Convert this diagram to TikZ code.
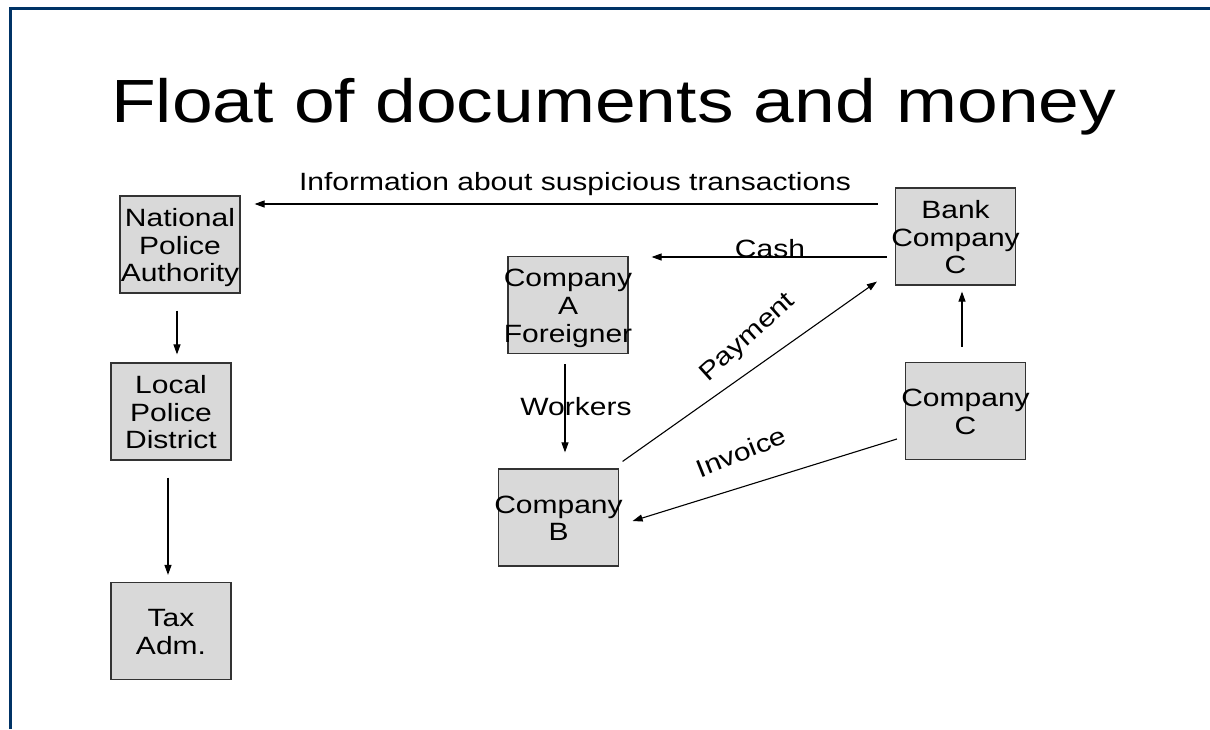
\documentclass[tikz,border=0pt]{standalone}
\usepackage{fontspec}
\setmainfont{Liberation Sans}[FakeStretch=1.2]
\usetikzlibrary{arrows.meta}
\definecolor{frame}{RGB}{0,51,102}
\definecolor{boxfill}{RGB}{217,217,217}
\definecolor{boxline}{RGB}{51,51,51}
% box caption: lines centred on the box, allowed to run past its sides
\newcommand\boxlines[1]{\raisebox{-4pt}[\height][\depth]{%
  \makebox[100pt]{\begin{tabular}{@{}c@{}}#1\end{tabular}}}}
\begin{document}
\begin{tikzpicture}[x=1pt,y=-1pt,
  box/.style={draw=boxline, fill=boxfill, line width=1.2pt, rectangle,
    minimum width=120pt, minimum height=97pt, inner sep=0pt,
    font=\fontsize{25}{27.8}\selectfont},
  arr/.style={draw=black, line width=1.1pt, -{Triangle[length=10pt,width=7pt]}},
  lbl/.style={inner sep=0pt, font=\fontsize{25}{28}\selectfont}]
\useasboundingbox (0,0) rectangle (1210,729);

% slide frame
\draw[frame, line width=2.8pt] (10.5,729) -- (10.5,8.7) -- (1210,8.7);

% title
\node[anchor=base west, inner sep=0pt, font=\fontsize{61}{72}\selectfont] (title)
  at (111,122) {Float of documents and money};

% boxes
\node[box] (npa)  at (180,244.5)   {\boxlines{National\\Police\\Authority}};
\node[box] (lpd)  at (171,411.5)   {\boxlines{Local\\Police\\District}};
\node[box] (tax)  at (171,631)     {\boxlines{Tax\\Adm.}};
\node[box] (ca)   at (568,305)     {\boxlines{Company\\A\\Foreigner}};
\node[box] (bank) at (955.5,236.5) {\boxlines{Bank\\Company\\C}};
\node[box] (cb)   at (558.5,517.5) {\boxlines{Company\\B}};
\node[box] (cc)   at (965.5,411)   {\boxlines{Company\\C}};

% connectors
\draw[arr] ([xshift=-17pt,yshift=32.5pt]bank.west) -- ([xshift=14pt,yshift=40.5pt]npa.east);
\draw[arr] ([xshift=-8pt,yshift=-20.5pt]bank.west) -- ([xshift=23pt,yshift=48pt]ca.east);
\draw[arr] ([xshift=3.5pt,yshift=7pt]cb.north east) -- ([xshift=-18pt,yshift=4pt]bank.south west);
\draw[arr] ([xshift=-3pt,yshift=-10pt]ca.south) -- ([xshift=6.5pt,yshift=16pt]cb.north);
\draw[arr] ([xshift=-8pt,yshift=-28pt]cc.west) -- ([xshift=13.5pt,yshift=-3.5pt]cb.east);
\draw[arr] ([xshift=-3.5pt,yshift=15pt]cc.north) -- ([xshift=6.5pt,yshift=-6pt]bank.south);
\draw[arr] ([xshift=-3pt,yshift=-17pt]npa.south) -- ([xshift=6pt,yshift=8pt]lpd.north);
\draw[arr] ([xshift=-3pt,yshift=-17pt]lpd.south) -- ([xshift=-3pt,yshift=7pt]tax.north);

% connector labels
\node[lbl, anchor=base] (linfo) at (575,190) {Information about suspicious transactions};
\node[lbl, anchor=base] (lcash) at (770,257) {Cash};
\node[lbl, anchor=base] (lwork) at (576,415) {Workers};
\node[lbl, rotate=42] (lpay) at (748,338) {Payment};
\node[lbl, rotate=22] (linv) at (741,452) {Invoice};
\end{tikzpicture}
\end{document}
